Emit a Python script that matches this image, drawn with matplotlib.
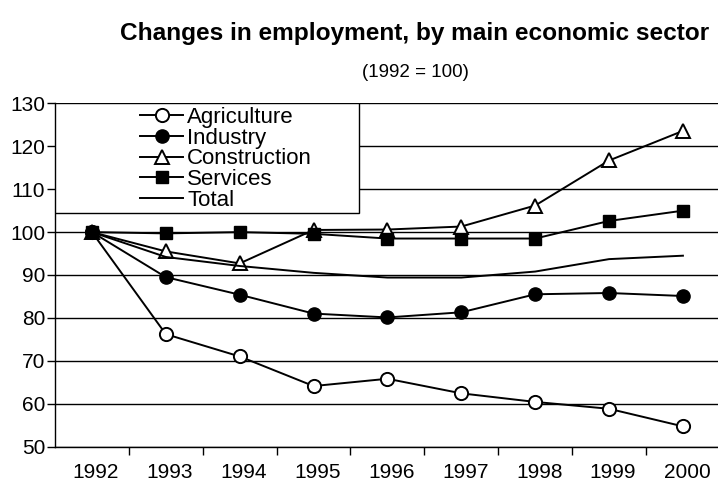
import numpy as np
import matplotlib.pyplot as plt
import matplotlib.transforms as mtransforms
from matplotlib.patches import Rectangle

plt.rcParams['font.family'] = ['Liberation Sans', 'DejaVu Sans']

# Data (1992 = 100)
years = ['1992', '1993', '1994', '1995', '1996', '1997', '1998', '1999', '2000']
agriculture = [100, 76.2, 71.0, 64.1, 65.8, 62.4, 60.4, 58.8, 54.7]
industry = [100, 89.5, 85.4, 81.0, 80.1, 81.3, 85.5, 85.8, 85.1]
construction = [100, 95.5, 92.7, 100.5, 100.6, 101.3, 106.2, 116.7, 123.6]
services = [100, 99.7, 100.0, 99.6, 98.5, 98.5, 98.5, 102.6, 105.0]
total = [100, 94.2, 92.1, 90.5, 89.4, 89.4, 90.8, 93.7, 94.5]

fig = plt.figure(figsize=(7.18, 4.88), dpi=100)
ax = fig.add_axes([0.0766, 0.085, 0.926, 0.703])

x = np.arange(len(years))
lw = 1.4
ms = 9.5
ax.plot(x, agriculture, color='black', lw=lw, marker='o', ms=ms,
        markerfacecolor='white', markeredgecolor='black', markeredgewidth=1.4, label='Agriculture', zorder=3)
ax.plot(x, industry, color='black', lw=lw, marker='o', ms=ms,
        markerfacecolor='black', label='Industry', zorder=3)
ax.plot(x, construction, color='black', lw=lw, marker='^', ms=ms,
        markerfacecolor='white', markeredgecolor='black', markeredgewidth=1.4, label='Construction', zorder=3)
ax.plot(x, services, color='black', lw=lw, marker='s', ms=ms - 0.5,
        markerfacecolor='black', label='Services', zorder=4)
ax.plot(x, total, color='black', lw=lw, label='Total', zorder=3)

# Axes
ax.set_xlim(-0.5, len(years) - 0.5)
ax.set_ylim(50, 130)
ax.set_yticks(np.arange(50, 131, 10))
ax.yaxis.grid(True, color='black', lw=1)
ax.set_axisbelow(True)
ax.set_xticks(x)
ax.set_xticklabels(years)
ax.set_xticks(np.arange(0.5, len(years), 1), minor=True)
ax.tick_params(axis='x', which='major', length=0, pad=12, labelsize=15)
ax.tick_params(axis='x', which='minor', length=6, width=1, direction='out')
ax.tick_params(axis='y', length=6, width=1, labelsize=15, pad=1)
ax.spines['right'].set_visible(False)
ax.spines['top'].set_visible(False)
for s in ['left', 'bottom']:
    ax.spines[s].set_linewidth(1)

# labels sit a little right of the category centres in the original
shift = mtransforms.ScaledTranslation(4 / 100, 0, fig.dpi_scale_trans)
for lab in ax.get_xticklabels():
    lab.set_transform(lab.get_transform() + shift)

# Legend box
ax.add_patch(Rectangle((0, 0.681), 0.457, 0.319, transform=ax.transAxes,
                       facecolor='white', edgecolor='black', lw=1, zorder=5))
leg = ax.legend(loc='upper left', bbox_to_anchor=(0.128, 0.99), frameon=False,
                fontsize=16, handlelength=1.94, handletextpad=0.18,
                labelspacing=-0.01, borderpad=0, borderaxespad=0)
leg.set_zorder(6)

fig.text(0.578, 0.932, 'Changes in employment, by main economic sector',
         ha='center', va='center', fontsize=17.6, fontweight='bold')
fig.text(0.578, 0.852, '(1992 = 100)', ha='center', va='center', fontsize=13.5)

fig.savefig('out.png', dpi=100)
